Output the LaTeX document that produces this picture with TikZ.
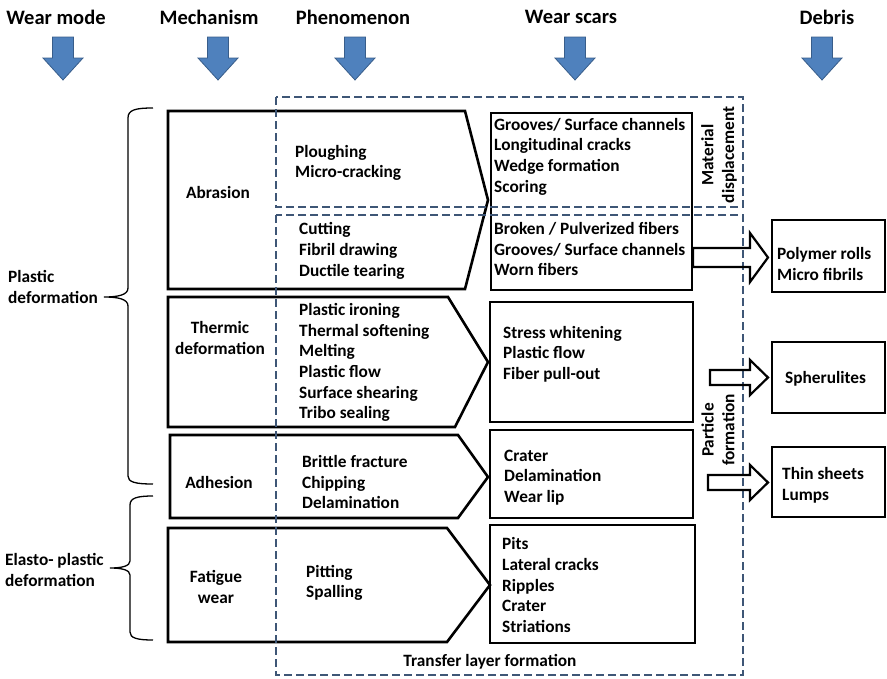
\documentclass[tikz,border=0pt]{standalone}
\usepackage{fontspec}
\setmainfont{Carlito}
\definecolor{dashc}{RGB}{62,86,118}
\definecolor{arrfill}{RGB}{79,129,189}
\definecolor{arrline}{RGB}{56,93,138}
\begin{document}
\begin{tikzpicture}[x=1pt,y=-1pt,
  txt/.style={font=\bfseries\fontsize{17.3}{20.7}\selectfont, inner sep=0pt, align=left, anchor=west},
  ctr/.style={font=\bfseries\fontsize{17.3}{20.7}\selectfont, inner sep=0pt, align=center},
  hdr/.style={font=\bfseries\fontsize{20.5}{24}\selectfont, inner sep=0pt},
  pent/.style={draw=black, line width=2.6pt, line join=miter},
  scar/.style={draw=black, line width=2.6pt},
  deb/.style={draw=black, line width=1.4pt},
  hollow/.style={draw=black, line width=2.2pt, line join=miter},
  dbox/.style={draw=dashc, line width=2.2pt, dash pattern=on 8pt off 4pt},
  blue/.style={fill=arrfill, draw=arrline, line width=0.8pt},
  brace/.style={draw=black, line width=1.3pt}
]
\useasboundingbox (0,0) rectangle (887,678);
% headers
\node[hdr] (h1) at (56,17) {Wear mode};
\node[hdr] (h2) at (209,17) {Mechanism};
\node[hdr] (h3) at (353,17) {Phenomenon};
\node[hdr] (h4) at (571,17) {Wear scars};
\node[hdr] (h5) at (827,17) {Debris};
% blue arrows
\foreach \cx in {63,218,355,575,822}{
  \draw[blue] (\cx-10.5,37) -- (\cx+10.5,37) -- (\cx+10.5,58) -- (\cx+20,58) -- (\cx,80) -- (\cx-20,58) -- (\cx-10.5,58) -- cycle;
}
% pentagons
\draw[pent] (168,111) -- (465,111) -- (488,200) -- (465,289) -- (168,289) -- cycle;
\draw[pent] (168,297) -- (448,297) -- (488,362) -- (455,427) -- (168,427) -- cycle;
\draw[pent] (170,435) -- (458,435) -- (488,477) -- (458,518) -- (170,518) -- cycle;
\draw[pent] (168,528) -- (447,528) -- (490,585) -- (447,642) -- (168,642) -- cycle;
% wear scar boxes
\draw[scar] (491,113) rectangle (692,290);
\draw[scar] (490,302) rectangle (693,422);
\draw[scar] (490,430) rectangle (693,518);
\draw[scar] (490,525) rectangle (695,643);
% debris boxes
\draw[deb] (772,220) rectangle (885,292);
\draw[deb] (772,342) rectangle (885,413);
\draw[deb] (772,447) rectangle (885,517);
% dashed boxes
\draw[dbox] (276,97) rectangle (743,207);
\draw[dbox] (276,215) rectangle (743,675);
% hollow arrows
\draw[hollow] (693,248) -- (750,248) -- (750,233) -- (768,257.5) -- (750,282) -- (750,267) -- (693,267) -- cycle;
\draw[hollow] (710,370) -- (750,370) -- (750,360) -- (768,377.5) -- (750,395) -- (750,385) -- (710,385) -- cycle;
\draw[hollow] (708,475) -- (750,475) -- (750,465) -- (768,482.5) -- (750,500) -- (750,490) -- (708,490) -- cycle;
% braces
\draw[brace] (153,108) .. controls (135,108) and (128,110) .. (128,118) -- (128,288)
  .. controls (128,295) and (118,297) .. (104,297) .. controls (118,297) and (128,299) .. (128,306)
  -- (128,476) .. controls (128,482) and (135,484) .. (153,484);
\draw[brace] (153,496) .. controls (137,496) and (130,498) .. (130,505) -- (130,561)
  .. controls (130,566) and (122,568) .. (110,568) .. controls (122,568) and (130,570) .. (130,575)
  -- (130,632) .. controls (130,638) and (137,640) .. (153,640);
% wear mode labels
\node[txt] (pd) at (8,287) {Plastic\\deformation};
\node[txt] (ep) at (5,570) {Elasto- plastic\\deformation};
% mechanisms
\node[ctr] (m1) at (218,192) {Abrasion};
\node[ctr] (m2) at (220,338) {Thermic\\deformation};
\node[ctr] (m3) at (219,482) {Adhesion};
\node[ctr] (m4) at (216,587) {Fatigue\\wear};
% phenomena
\node[txt] (p1) at (295,163) {Ploughing\\Micro-cracking};
\node[txt] (p2) at (299,251) {Cutting\\Fibril drawing\\Ductile tearing};
\node[txt] (p3) at (299,362.5) {Plastic ironing\\Thermal softening\\Melting\\Plastic flow\\Surface shearing\\Tribo sealing};
\node[txt] (p4) at (302,482) {Brittle fracture\\Chipping\\Delamination};
\node[txt] (p5) at (306,583) {Pitting\\Spalling};
% wear scars
\node[txt] (s1) at (494,156.5) {Grooves/ Surface channels\\Longitudinal cracks\\Wedge formation\\Scoring};
\node[txt] (s2) at (494,249) {Broken / Pulverized fibers\\Grooves/ Surface channels\\Worn fibers};
\node[txt] (s3) at (503,354) {Stress whitening\\Plastic flow\\Fiber pull-out};
\node[txt] (s4) at (504,477.5) {Crater\\Delamination\\Wear lip};
\node[txt] (s5) at (502,585) {Pits\\Lateral cracks\\Ripples\\Crater\\Striations};
% debris
\node[txt] (d1) at (777,264) {Polymer rolls\\Micro fibrils};
\node[txt] (d2) at (785,379) {Spherulites};
\node[txt] (d3) at (782,485.5) {Thin sheets\\Lumps};
% rotated labels
\node[ctr, rotate=90] (md) at (719,155) {Material\\displacement};
\node[ctr, rotate=90] (pf) at (718,430) {Particle\\formation};
\node[ctr] (tl) at (490,662) {Transfer layer formation};
\end{tikzpicture}
\end{document}
